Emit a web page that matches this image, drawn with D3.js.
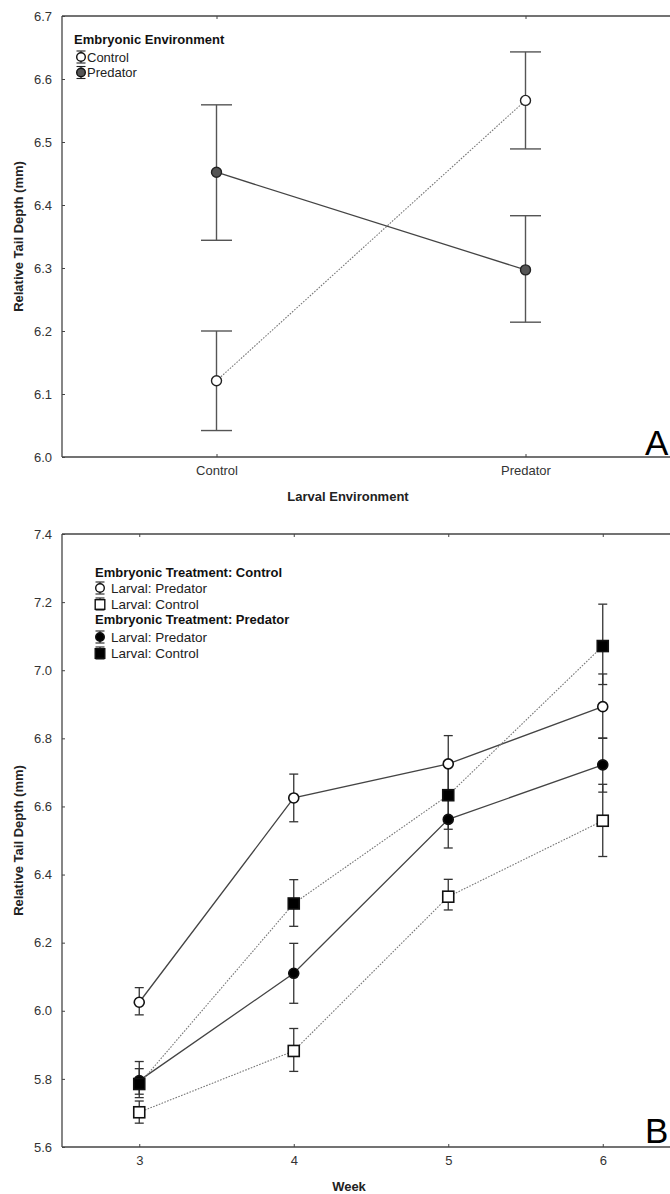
<!DOCTYPE html>
<html>
<head>
<meta charset="utf-8">
<script src="https://cdn.jsdelivr.net/npm/d3@7"></script>
<style>
  html, body { margin: 0; padding: 0; background: #fff; }
  svg { display: block; font-family: "Liberation Sans", Arial, sans-serif; }
</style>
</head>
<body>
<svg id="chart" width="670" height="1194"></svg>
<script>
// ---------- Panel A data ----------
const catsA = ["Control", "Predator"];
const yTicksA = [6.0, 6.1, 6.2, 6.3, 6.4, 6.5, 6.6, 6.7];
const aCtrlMean = [6.121, 6.566];
const aCtrlLo   = [6.042, 6.489];
const aCtrlHi   = [6.200, 6.643];
const aPredMean = [6.452, 6.297];
const aPredLo   = [6.344, 6.214];
const aPredHi   = [6.559, 6.383];

// ---------- Panel B data ----------
const weeks = [3, 4, 5, 6];
const yTicksB = [5.6, 5.8, 6.0, 6.2, 6.4, 6.6, 6.8, 7.0, 7.2, 7.4];
// Embryonic Control, Larval Predator (open circle)
const ecLpMean = [6.025, 6.625, 6.725, 6.893];
const ecLpLo   = [5.988, 6.555, 6.642, 6.801];
const ecLpHi   = [6.068, 6.695, 6.808, 6.989];
// Embryonic Control, Larval Control (open square)
const ecLcMean = [5.702, 5.882, 6.335, 6.558];
const ecLcLo   = [5.670, 5.822, 6.296, 6.453];
const ecLcHi   = [5.735, 5.948, 6.386, 6.665];
// Embryonic Predator, Larval Predator (filled circle)
const epLpMean = [5.795, 6.110, 6.562, 6.722];
const epLpLo   = [5.745, 6.022, 6.478, 6.642];
const epLpHi   = [5.851, 6.198, 6.646, 6.800];
// Embryonic Predator, Larval Control (filled square)
const epLcMean = [5.785, 6.315, 6.633, 7.071];
const epLcLo   = [5.755, 6.248, 6.533, 6.958];
const epLcHi   = [5.830, 6.385, 6.733, 7.194];

const svg = d3.select("#chart");
const AX = "#444";
const TXT = "#333";

function frame(g, x0, x1, y0, y1) {
  g.append("line").attr("x1", x0).attr("x2", x1).attr("y1", y0).attr("y2", y0)
    .attr("stroke", AX).attr("stroke-width", 1.3);
  g.append("line").attr("x1", x0).attr("x2", x0).attr("y1", y0).attr("y2", y1)
    .attr("stroke", AX).attr("stroke-width", 1.3);
  g.append("line").attr("x1", x0).attr("x2", x1).attr("y1", y1).attr("y2", y1)
    .attr("stroke", AX).attr("stroke-width", 1.3);
}

// ================= PANEL A =================
const A = { left: 62, right: 680, top: 16, bottom: 457 };
const xA = d3.scalePoint().domain(catsA).range([A.left, A.right]).padding(0.5);
const yA = d3.scaleLinear().domain([6.0, 6.7]).range([A.bottom, A.top]);
const gA = svg.append("g");

frame(gA, A.left, 670, A.top, A.bottom);

const yAxisA = d3.axisLeft(yA).tickValues(yTicksA).tickFormat(d3.format(".1f")).tickSizeInner(-3).tickSizeOuter(0).tickPadding(10);
gA.append("g").attr("transform", `translate(${A.left},0)`).call(yAxisA)
  .call(g => g.select(".domain").remove())
  .call(g => g.selectAll("line").attr("stroke", AX))
  .call(g => g.selectAll("text").attr("fill", TXT).attr("font-size", 13).attr("font-family", "Liberation Sans, Arial"));

const xAxisA = d3.axisBottom(xA).tickSizeInner(-3).tickSizeOuter(0).tickPadding(9);
gA.append("g").attr("transform", `translate(0,${A.bottom})`).call(xAxisA)
  .call(g => g.select(".domain").remove())
  .call(g => g.selectAll("line").attr("stroke", AX))
  .call(g => g.selectAll("text").attr("fill", TXT).attr("font-size", 13).attr("font-family", "Liberation Sans, Arial"));
gA.append("g").attr("transform", `translate(0,${A.top})`)
  .call(d3.axisTop(xA).tickSizeInner(-3).tickSizeOuter(0).tickFormat(""))
  .call(g => g.select(".domain").remove())
  .call(g => g.selectAll("line").attr("stroke", AX));

gA.append("text").attr("x", 348).attr("y", 501).attr("text-anchor", "middle")
  .attr("font-weight", "bold").attr("font-size", 13).attr("fill", "#222").text("Larval Environment");
gA.append("text").attr("transform", `translate(23,${(A.top + A.bottom) / 2}) rotate(-90)`)
  .attr("text-anchor", "middle").attr("font-weight", "bold").attr("font-size", 13).attr("fill", "#222")
  .text("Relative Tail Depth (mm)");

const seriesA = [
  { mean: aCtrlMean, lo: aCtrlLo, hi: aCtrlHi, fill: "#fff", dash: "1.6,1.4", lc: "#777", lw: 1.1 },
  { mean: aPredMean, lo: aPredLo, hi: aPredHi, fill: "#555", dash: null, lc: "#444", lw: 1.3 }
];
seriesA.forEach(s => {
  const pts = catsA.map((c, i) => [xA(c), yA(s.mean[i])]);
  gA.append("path").attr("d", d3.line()(pts)).attr("fill", "none")
    .attr("stroke", s.lc).attr("stroke-width", s.lw)
    .attr("stroke-dasharray", s.dash);
});
seriesA.forEach(s => {
  catsA.forEach((c, i) => {
    const x = xA(c);
    gA.append("line").attr("x1", x).attr("x2", x).attr("y1", yA(s.lo[i])).attr("y2", yA(s.hi[i]))
      .attr("stroke", "#555").attr("stroke-width", 1.4);
    [s.lo[i], s.hi[i]].forEach(v => {
      gA.append("line").attr("x1", x - 15.5).attr("x2", x + 15.5).attr("y1", yA(v)).attr("y2", yA(v))
        .attr("stroke", "#555").attr("stroke-width", 1.4);
    });
  });
});
seriesA.forEach(s => {
  catsA.forEach((c, i) => {
    gA.append("circle").attr("cx", xA(c)).attr("cy", yA(s.mean[i])).attr("r", 5)
      .attr("fill", s.fill).attr("stroke", "#222").attr("stroke-width", 1.4);
  });
});

function legendIcon(g, x, y, shape, fill, capW) {
  g.append("line").attr("x1", x).attr("x2", x).attr("y1", y - 6).attr("y2", y + 6).attr("stroke", "#222").attr("stroke-width", 1.1);
  [-6, 6].forEach(d => g.append("line").attr("x1", x - capW).attr("x2", x + capW).attr("y1", y + d).attr("y2", y + d).attr("stroke", "#222").attr("stroke-width", 1.1));
  if (shape === "circle") {
    g.append("circle").attr("cx", x).attr("cy", y).attr("r", 4.3).attr("fill", fill).attr("stroke", "#111").attr("stroke-width", 1.4);
  } else {
    g.append("rect").attr("x", x - 4.8).attr("y", y - 4.3).attr("width", 9.6).attr("height", 9.6).attr("fill", fill).attr("stroke", "#111").attr("stroke-width", 1.4);
  }
}
gA.append("text").attr("x", 74).attr("y", 44).attr("font-weight", "bold").attr("font-size", 13).attr("fill", "#111").text("Embryonic Environment");
legendIcon(gA, 81, 57, "circle", "#fff", 4.5);
gA.append("text").attr("x", 87).attr("y", 61.5).attr("font-size", 13).attr("fill", "#222").text("Control");
legendIcon(gA, 81, 72.5, "circle", "#555", 4.5);
gA.append("text").attr("x", 87).attr("y", 77).attr("font-size", 13).attr("fill", "#222").text("Predator");

gA.append("text").attr("x", 645).attr("y", 455).attr("font-size", 35).attr("fill", "#000").text("A");

// ================= PANEL B =================
const B = { left: 62, right: 680, top: 534, bottom: 1147 };
const xB = d3.scaleLinear().domain([2.5, 6.5]).range([B.left, B.right]);
const yB = d3.scaleLinear().domain([5.6, 7.4]).range([B.bottom, B.top]);
const gB = svg.append("g");

frame(gB, B.left, 670, B.top, B.bottom);

gB.append("g").attr("transform", `translate(${B.left},0)`)
  .call(d3.axisLeft(yB).tickValues(yTicksB).tickFormat(d3.format(".1f")).tickSizeInner(-3).tickSizeOuter(0).tickPadding(10))
  .call(g => g.select(".domain").remove())
  .call(g => g.selectAll("line").attr("stroke", AX))
  .call(g => g.selectAll("text").attr("fill", TXT).attr("font-size", 13).attr("font-family", "Liberation Sans, Arial"));

gB.append("g").attr("transform", `translate(0,${B.bottom})`)
  .call(d3.axisBottom(xB).tickValues(weeks).tickFormat(d3.format("d")).tickSizeInner(-3).tickSizeOuter(0).tickPadding(9))
  .call(g => g.select(".domain").remove())
  .call(g => g.selectAll("line").attr("stroke", AX))
  .call(g => g.selectAll("text").attr("fill", TXT).attr("font-size", 13).attr("font-family", "Liberation Sans, Arial"));
gB.append("g").attr("transform", `translate(0,${B.top})`)
  .call(d3.axisTop(xB).tickValues(weeks).tickSizeInner(-3).tickSizeOuter(0).tickFormat(""))
  .call(g => g.select(".domain").remove())
  .call(g => g.selectAll("line").attr("stroke", AX));

gB.append("text").attr("x", 349).attr("y", 1191).attr("text-anchor", "middle")
  .attr("font-weight", "bold").attr("font-size", 13).attr("fill", "#222").text("Week");
gB.append("text").attr("transform", `translate(23,${(B.top + B.bottom) / 2}) rotate(-90)`)
  .attr("text-anchor", "middle").attr("font-weight", "bold").attr("font-size", 13).attr("fill", "#222")
  .text("Relative Tail Depth (mm)");

const seriesB = [
  { mean: ecLpMean, lo: ecLpLo, hi: ecLpHi, shape: "circle", fill: "#fff", dash: null },
  { mean: ecLcMean, lo: ecLcLo, hi: ecLcHi, shape: "square", fill: "#fff", dash: "1.6,1.4" },
  { mean: epLpMean, lo: epLpLo, hi: epLpHi, shape: "circle", fill: "#000", dash: null },
  { mean: epLcMean, lo: epLcLo, hi: epLcHi, shape: "square", fill: "#000", dash: "1.6,1.4" }
];
seriesB.forEach(s => {
  const pts = weeks.map((w, i) => [xB(w), yB(s.mean[i])]);
  gB.append("path").attr("d", d3.line()(pts)).attr("fill", "none")
    .attr("stroke", s.dash ? "#777" : "#444").attr("stroke-width", s.dash ? 1.1 : 1.3)
    .attr("stroke-dasharray", s.dash);
});
seriesB.forEach(s => {
  weeks.forEach((w, i) => {
    const x = xB(w);
    gB.append("line").attr("x1", x).attr("x2", x).attr("y1", yB(s.lo[i])).attr("y2", yB(s.hi[i]))
      .attr("stroke", "#333").attr("stroke-width", 1.3);
    [s.lo[i], s.hi[i]].forEach(v => {
      gB.append("line").attr("x1", x - 4.5).attr("x2", x + 4.5).attr("y1", yB(v)).attr("y2", yB(v))
        .attr("stroke", "#333").attr("stroke-width", 1.3);
    });
  });
});
seriesB.forEach(s => {
  weeks.forEach((w, i) => {
    const x = xB(w), y = yB(s.mean[i]);
    if (s.shape === "circle") {
      gB.append("circle").attr("cx", x).attr("cy", y).attr("r", 5)
        .attr("fill", s.fill).attr("stroke", "#111").attr("stroke-width", 1.6);
    } else {
      gB.append("rect").attr("x", x - 5.5).attr("y", y - 5.5).attr("width", 11).attr("height", 11)
        .attr("fill", s.fill).attr("stroke", "#111").attr("stroke-width", 1.6);
    }
  });
});

const legB = [
  { type: "title", text: "Embryonic Treatment: Control", y: 576.5 },
  { type: "item", text: "Larval: Predator", shape: "circle", fill: "#fff", y: 592.5 },
  { type: "item", text: "Larval: Control", shape: "square", fill: "#fff", y: 608.5 },
  { type: "title", text: "Embryonic Treatment: Predator", y: 624 },
  { type: "item", text: "Larval: Predator", shape: "circle", fill: "#000", y: 641.5 },
  { type: "item", text: "Larval: Control", shape: "square", fill: "#000", y: 657.5 }
];
legB.forEach(d => {
  if (d.type === "title") {
    gB.append("text").attr("x", 95).attr("y", d.y).attr("font-weight", "bold").attr("font-size", 13).attr("fill", "#111").text(d.text);
  } else {
    legendIcon(gB, 100, d.y - 4.5, d.shape, d.fill, 4.5);
    gB.append("text").attr("x", 111).attr("y", d.y).attr("font-size", 13.5).attr("fill", "#222").text(d.text);
  }
});

gB.append("text").attr("x", 645).attr("y", 1143).attr("font-size", 35).attr("fill", "#000").text("B");
</script>
</body>
</html>
